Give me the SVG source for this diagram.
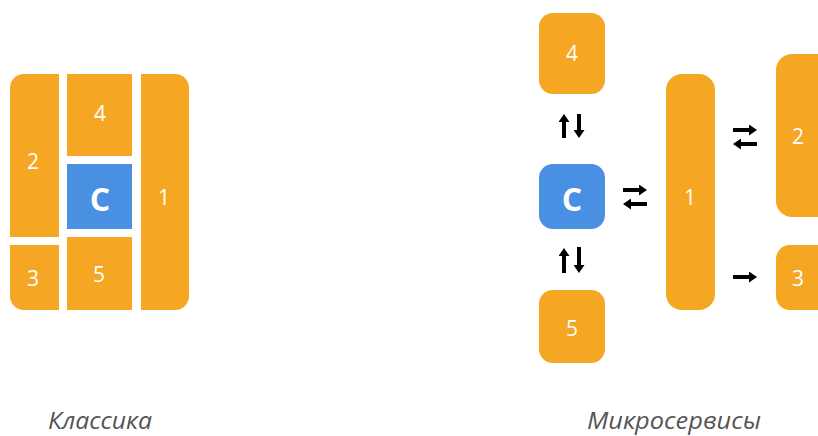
<svg xmlns="http://www.w3.org/2000/svg" width="818" height="436" viewBox="0 0 818 436">
<style>
.o{fill:#F5A623}
.b{fill:#4A90E2}
.n{fill:#fff;font-family:"Open Sans","Noto Sans",sans-serif;font-size:21px;text-anchor:middle;dominant-baseline:central}
.c{fill:#fff;font-family:"Open Sans","Noto Sans",sans-serif;font-size:32px;font-weight:bold;text-anchor:middle;dominant-baseline:central}
.t{fill:#555;font-family:"Open Sans","Noto Sans",sans-serif;font-size:23px;font-style:italic;text-anchor:middle}
.a{stroke:#000;stroke-width:4;fill:none;marker-end:url(#ah)}
</style>
<defs>
<marker id="ah" viewBox="0 0 10 10" refX="0" refY="5" markerWidth="8" markerHeight="11" markerUnits="userSpaceOnUse" orient="auto" preserveAspectRatio="none"><path d="M0,0 L10,5 L0,10 z" fill="#000"/></marker>
<clipPath id="cl"><rect x="10" y="74" width="179" height="236" rx="14"/></clipPath>
</defs>
<g id="classic" clip-path="url(#cl)">
<g id="c2"><rect class="o" x="10" y="74" width="49" height="163"/><text class="n" x="33" y="161">2</text></g>
<g id="c3"><rect class="o" x="10" y="245" width="49" height="65"/><text class="n" x="33" y="278">3</text></g>
<g id="c4"><rect class="o" x="67" y="74" width="65" height="82"/><text class="n" x="100" y="113">4</text></g>
<g id="cC"><rect class="b" x="67" y="164" width="65" height="65"/><text class="c" x="100" y="198">C</text></g>
<g id="c5"><rect class="o" x="67" y="237" width="65" height="73"/><text class="n" x="99" y="274">5</text></g>
<g id="c1"><rect class="o" x="141" y="74" width="48" height="236"/><text class="n" x="164" y="197">1</text></g>
</g>
<g id="micro">
<g id="m4"><rect class="o" x="539" y="13" width="66" height="81" rx="14"/><text class="n" x="572" y="53">4</text></g>
<g id="mC"><rect class="b" x="539" y="164" width="66" height="65" rx="14"/><text class="c" x="572" y="198">C</text></g>
<g id="m5"><rect class="o" x="539" y="290" width="66" height="73" rx="14"/><text class="n" x="572" y="328">5</text></g>
<g id="m1"><rect class="o" x="666" y="74" width="49" height="236" rx="16"/><text class="n" x="690" y="197">1</text></g>
<g id="m2"><rect class="o" x="776" y="54" width="66" height="163" rx="16"/><text class="n" x="798" y="136">2</text></g>
<g id="m3"><rect class="o" x="776" y="245" width="66" height="65" rx="14"/><text class="n" x="798" y="278">3</text></g>
</g>
<g id="connectors">
<path class="a" d="M564,138 L564,122"/>
<path class="a" d="M579,114 L579,130"/>
<path class="a" d="M564,273 L564,256"/>
<path class="a" d="M579,247 L579,265"/>
<path class="a" d="M623,190 L639,190"/>
<path class="a" d="M647,204 L631,204"/>
<path class="a" d="M733,130 L749,130"/>
<path class="a" d="M757,144 L741,144"/>
<path class="a" d="M733,277 L749,277"/>
</g>
<g id="labels">
<text class="t" x="100" y="429" textLength="104" lengthAdjust="spacingAndGlyphs">Классика</text>
<text class="t" x="674" y="429" textLength="174" lengthAdjust="spacingAndGlyphs">Микросервисы</text>
</g>
</svg>
